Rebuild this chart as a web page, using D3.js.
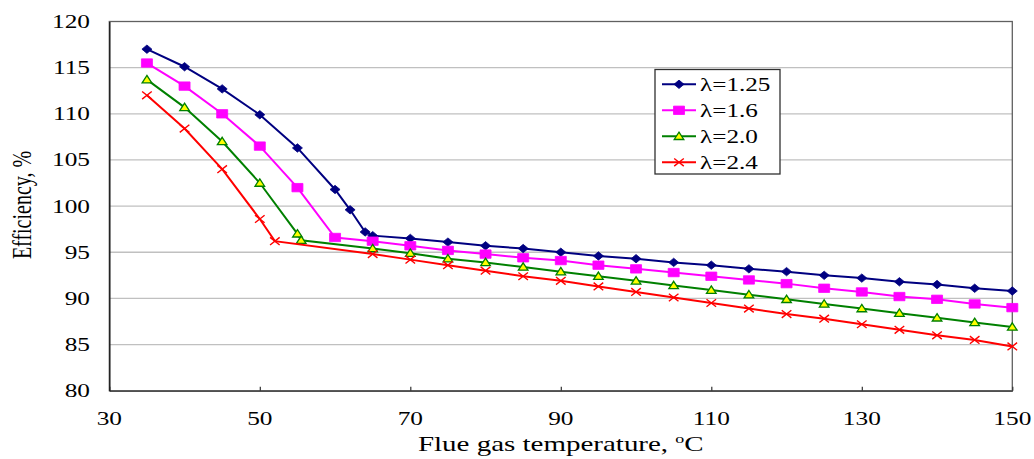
<!DOCTYPE html>
<html>
<head>
<meta charset="utf-8">
<script src="https://cdn.jsdelivr.net/npm/d3@7"></script>
<style>
  html, body { margin: 0; padding: 0; background: #fff; }
  svg { display: block; }
  text { font-family: "Liberation Serif", "Times New Roman", serif; fill: #000; }
</style>
</head>
<body>
<svg id="chart" width="1034" height="459"></svg>
<script>
// ---- Data ----
const seriesNames = ["λ=1.25", "λ=1.6", "λ=2.0", "λ=2.4"];

const tempL125 = [35, 40, 45, 50, 55, 60, 62, 64, 65, 70, 75, 80, 85, 90, 95, 100, 105, 110, 115, 120, 125, 130, 135, 140, 145, 150];
const effL125  = [117.0, 115.1, 112.7, 109.9, 106.3, 101.8, 99.6, 97.2, 96.8, 96.5, 96.1, 95.7, 95.4, 95.0, 94.6, 94.3, 93.9, 93.6, 93.2, 92.9, 92.5, 92.2, 91.8, 91.5, 91.1, 90.8];

const tempL16 = [35, 40, 45, 50, 55, 60, 65, 70, 75, 80, 85, 90, 95, 100, 105, 110, 115, 120, 125, 130, 135, 140, 145, 150];
const effL16  = [115.5, 113.0, 110.0, 106.5, 102.0, 96.6, 96.2, 95.7, 95.2, 94.8, 94.4, 94.1, 93.6, 93.2, 92.8, 92.4, 92.0, 91.6, 91.1, 90.7, 90.2, 89.9, 89.4, 89.0];

const tempL20 = [35, 40, 45, 50, 55, 55.5, 65, 70, 75, 80, 85, 90, 95, 100, 105, 110, 115, 120, 125, 130, 135, 140, 145, 150];
const effL20  = [113.7, 110.7, 107.0, 102.5, 97.0, 96.3, 95.4, 94.9, 94.3, 93.9, 93.4, 92.9, 92.4, 91.9, 91.4, 90.9, 90.4, 89.9, 89.4, 88.9, 88.4, 87.9, 87.4, 86.9];

const tempL24 = [35, 40, 45, 50, 52, 65, 70, 75, 80, 85, 90, 95, 100, 105, 110, 115, 120, 125, 130, 135, 140, 145, 150];
const effL24  = [112.0, 108.4, 104.0, 98.6, 96.2, 94.8, 94.2, 93.6, 93.0, 92.4, 91.9, 91.3, 90.7, 90.1, 89.5, 88.9, 88.3, 87.8, 87.2, 86.6, 86.0, 85.5, 84.8];

const xTickValues = [30, 50, 70, 90, 110, 130, 150];
const yTickValues = [80, 85, 90, 95, 100, 105, 110, 115, 120];

const xTitle = "Flue gas temperature, ";
const yTitle = "Efficiency, %";

// ---- Layout ----
const svg = d3.select("#chart");
const L = 109.3, R = 1012.3, T = 21.5, B = 390.7;
const SX = 1.3; // horizontal stretch of the reference picture

const x = d3.scaleLinear().domain([30, 150]).range([L, R]);
const y = d3.scaleLinear().domain([80, 120]).range([B, T]);

const series = [
  { name: seriesNames[0], t: tempL125, e: effL125, color: "#000080", marker: "diamond" },
  { name: seriesNames[1], t: tempL16,  e: effL16,  color: "#FF00FF", marker: "square" },
  { name: seriesNames[2], t: tempL20,  e: effL20,  color: "#008000", marker: "triangle" },
  { name: seriesNames[3], t: tempL24,  e: effL24,  color: "#FF0000", marker: "cross" }
];

// gridlines
svg.append("g")
  .selectAll("line")
  .data(yTickValues.filter(v => v > 80 && v < 120))
  .join("line")
  .attr("x1", L).attr("x2", R)
  .attr("y1", d => y(d)).attr("y2", d => y(d))
  .attr("stroke", "#c0c0c0").attr("stroke-width", 1.3);

// plot border
svg.append("rect")
  .attr("x", L).attr("y", T).attr("width", R - L).attr("height", B - T)
  .attr("fill", "none").attr("stroke", "#606060").attr("stroke-width", 1.3);

// x axis
const xAxis = d3.axisBottom(x).tickValues(xTickValues).tickSizeInner(-4).tickSizeOuter(0).tickFormat("");
const gx = svg.append("g").attr("transform", `translate(0,${B})`).call(xAxis);
gx.select(".domain").attr("stroke", "#505050").attr("stroke-width", 1.5);
gx.selectAll(".tick line").attr("stroke", "#303030").attr("stroke-width", 1.2);

// y axis
const yAxis = d3.axisLeft(y).tickValues(yTickValues).tickSize(0).tickFormat("");
const gy = svg.append("g").attr("transform", `translate(${L},0)`).call(yAxis);
gy.select(".domain").attr("stroke", "#202020").attr("stroke-width", 1.5);

// stretched text helper
function stext(g, tx, ty, str, size, anchor, sx) {
  return g.append("text")
    .attr("transform", `translate(${tx},${ty}) scale(${sx},1)`)
    .attr("text-anchor", anchor)
    .attr("font-size", size)
    .text(str);
}

// tick labels
const labels = svg.append("g");
xTickValues.forEach(v => stext(labels, x(v), 424.5, String(v), 19.5, "middle", SX));
yTickValues.forEach(v => stext(labels, 90, y(v) + 6.5, String(v), 19.5, "end", SX));

// axis titles
const xt = stext(labels, (L + R) / 2, 451, xTitle, 21, "middle", 1.38);
xt.append("tspan").attr("font-size", 13).attr("dy", -8.5).text("o");
xt.append("tspan").attr("dy", 8.5).text("C");

labels.append("text")
  .attr("transform", `translate(31,205) rotate(-90) scale(1,1.35)`)
  .attr("text-anchor", "middle")
  .attr("font-size", 20)
  .text(yTitle);

// markers
function markerPath(type) {
  switch (type) {
    case "diamond":  return "M0,-4.2L5,0L0,4.2L-5,0Z";
    case "square":   return "M-5.5,-4.2H5.5V4.2H-5.5Z";
    case "triangle": return "M0,-4.2L4.8,3.2L-4.8,3.2Z";
    case "cross":    return "M-4.8,-3.8L4.8,3.8M-4.8,3.8L4.8,-3.8";
  }
}
function drawMarker(g, type, color, px, py) {
  const p = g.append("path")
    .attr("d", markerPath(type))
    .attr("transform", `translate(${px},${py})`);
  if (type === "triangle") p.attr("fill", "#FFFF00").attr("stroke", color).attr("stroke-width", 1.3);
  else if (type === "cross") p.attr("fill", "none").attr("stroke", color).attr("stroke-width", 1.4);
  else p.attr("fill", color).attr("stroke", color).attr("stroke-width", 0.8);
  return p;
}

const line = d3.line().x(d => x(d[0])).y(d => y(d[1]));
series.forEach(s => {
  const pts = s.t.map((t, i) => [t, s.e[i]]);
  const g = svg.append("g");
  g.append("path").datum(pts).attr("d", line)
    .attr("fill", "none").attr("stroke", s.color).attr("stroke-width", 2);
  pts.forEach(p => drawMarker(g, s.marker, s.color, x(p[0]), y(p[1])));
});

// legend
const lg = svg.append("g");
lg.append("rect").attr("x", 655).attr("y", 69.5).attr("width", 125).attr("height", 104.5)
  .attr("fill", "#fff").attr("stroke", "#303030").attr("stroke-width", 1.3);
series.forEach((s, i) => {
  const ly = 84.3 + i * 26;
  lg.append("line").attr("x1", 662).attr("x2", 696).attr("y1", ly).attr("y2", ly)
    .attr("stroke", s.color).attr("stroke-width", 2);
  drawMarker(lg, s.marker, s.color, 679, ly);
  stext(lg, 700, ly + 6.5, s.name, 18, "start", 1.4);
});
</script>
</body>
</html>
